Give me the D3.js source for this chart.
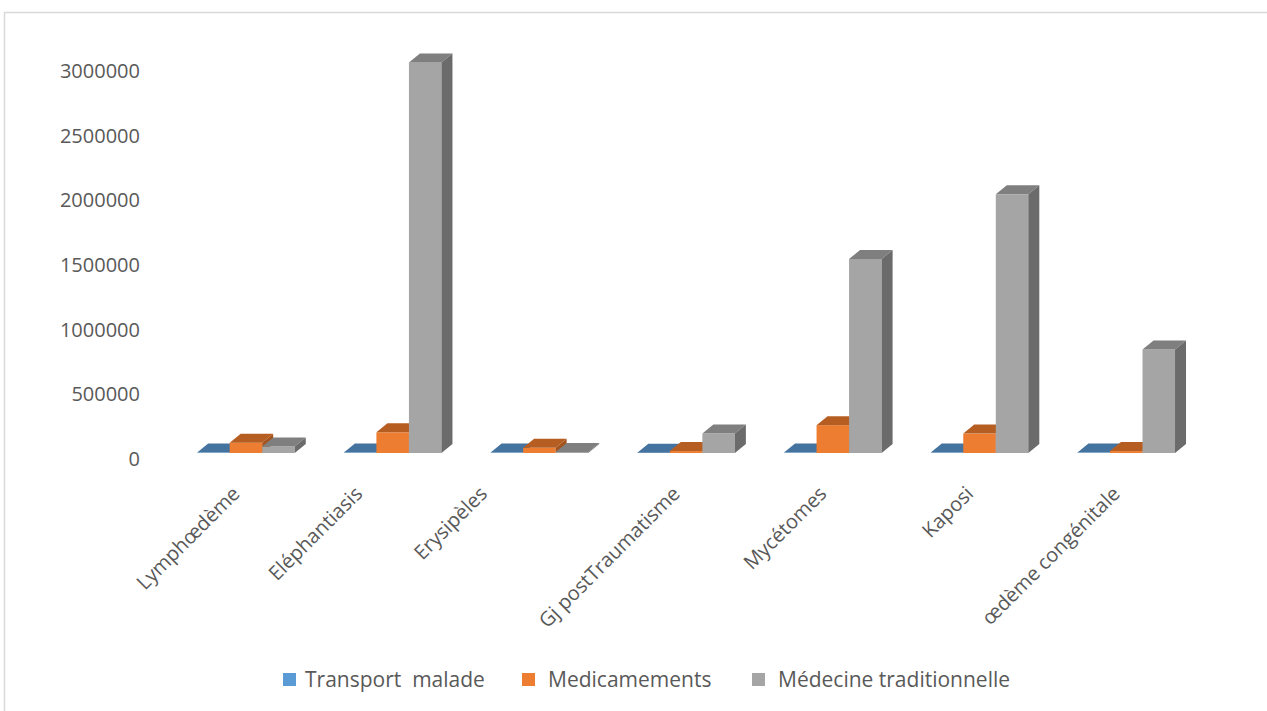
<html>
  <head>
    <meta charset="utf-8" />
    <script src="https://d3js.org/d3.v7.min.js"></script>
    <style>
      body { margin: 0; background: #fff; }
      text { font-family: "Open Sans", sans-serif; fill: #595959; white-space: pre; }
    </style>
  </head>
  <body>
    <div id="chart"></div>
    <script>
      // donnees
      const categories = ["Lymphœdème", "Eléphantiasis", "Erysipèles", "Gj postTraumatisme",
                          "Mycétomes", "Kaposi", "œdème congénitale"];
      const series = ["Transport  malade", "Medicamements", "Médecine traditionnelle"];
      const transport = [3000, 3000, 3000, 2000, 3000, 3000, 3000];
      const medicaments = [80000, 160000, 40000, 15000, 215000, 150000, 15000];
      const medTrad = [50000, 3020000, 8000, 150000, 1500000, 2000000, 800000];
      const yTicks = [0, 500000, 1000000, 1500000, 2000000, 2500000, 3000000];

      const values = [transport, medicaments, medTrad];
      const couleurFace = ["#5B9BD5", "#ED7D31", "#A5A5A5"];
      const couleurDessus = ["#44739F", "#B65E22", "#7F7F7F"];
      const couleurCote = ["#3E6891", "#A5531D", "#6B6B6B"];

      // decalage horizontal des libelles (placement irregulier dans l'original)
      const decalageEtiquette = [0, -24, -46, 0, 0, 0, 0];

      const W = 1267, H = 711;
      const dx = 11, dy = 9;   // profondeur 3D

      const svg = d3.select("#chart").append("svg")
        .attr("width", W).attr("height", H);

      // cadre du graphique
      svg.append("path")
        .attr("d", "M4.5,711 V12.5 H1267")
        .attr("fill", "none")
        .attr("stroke", "#d9d9d9")
        .attr("stroke-width", 1.5);

      const x0 = d3.scaleBand().domain(categories)
        .range([172.6, 1199.6]).paddingInner(0.335).paddingOuter(0.1675);
      const x1 = d3.scaleBand().domain(series).range([0, x0.bandwidth()]);
      const y = d3.scaleLinear().domain([0, 3000000]).range([453, 65]);

      // axe Y (etiquettes seulement)
      const yAxis = svg.append("g")
        .attr("transform", "translate(140,6)")
        .call(d3.axisLeft(y).tickValues(yTicks).tickSize(0).tickPadding(0)
          .tickFormat(d3.format("d")));
      yAxis.select(".domain").remove();
      yAxis.selectAll("text")
        .style("font-family", "'Open Sans', sans-serif")
        .style("font-size", "20px")
        .attr("fill", "#595959");

      // barres 3D
      categories.forEach((c, i) => {
        series.forEach((s, j) => {
          const v = values[j][i];
          const xl = x0(c) + x1(s), w = x1.bandwidth();
          const yt = y(v), yb = y(0);
          const g = svg.append("g");
          g.append("rect")
            .attr("x", xl).attr("y", yt)
            .attr("width", w).attr("height", yb - yt)
            .attr("fill", couleurFace[j]);
          g.append("path")
            .attr("d", `M${xl},${yt} L${xl + dx},${yt - dy} L${xl + w + dx},${yt - dy} L${xl + w},${yt} Z`)
            .attr("fill", couleurDessus[j]);
          g.append("path")
            .attr("d", `M${xl + w},${yt} L${xl + w + dx},${yt - dy} L${xl + w + dx},${yb - dy} L${xl + w},${yb} Z`)
            .attr("fill", couleurCote[j]);
        });
      });

      // etiquettes des categories
      svg.selectAll(".cat")
        .data(categories)
        .enter().append("text")
        .attr("class", "cat")
        .attr("transform", (d, i) => `translate(${x0(d) + x0.bandwidth() / 2 - 5 + decalageEtiquette[i]},${495}) rotate(-45)`)
        .attr("text-anchor", "end")
        .style("font-size", "20px")
        .text(d => d);

      // legende
      const legX = [283, 522, 752];
      const leg = svg.selectAll(".leg")
        .data(series)
        .enter().append("g")
        .attr("class", "leg")
        .attr("transform", (d, j) => `translate(${legX[j]},680)`);
      leg.append("rect")
        .attr("x", 0).attr("y", -7)
        .attr("width", 13).attr("height", 13)
        .attr("fill", (d, j) => couleurFace[j]);
      leg.append("text")
        .attr("x", (d, j) => j === 0 ? 22 : 26)
        .attr("y", 7)
        .style("font-size", "21px")
        .text(d => d);
    </script>
  </body>
</html>
